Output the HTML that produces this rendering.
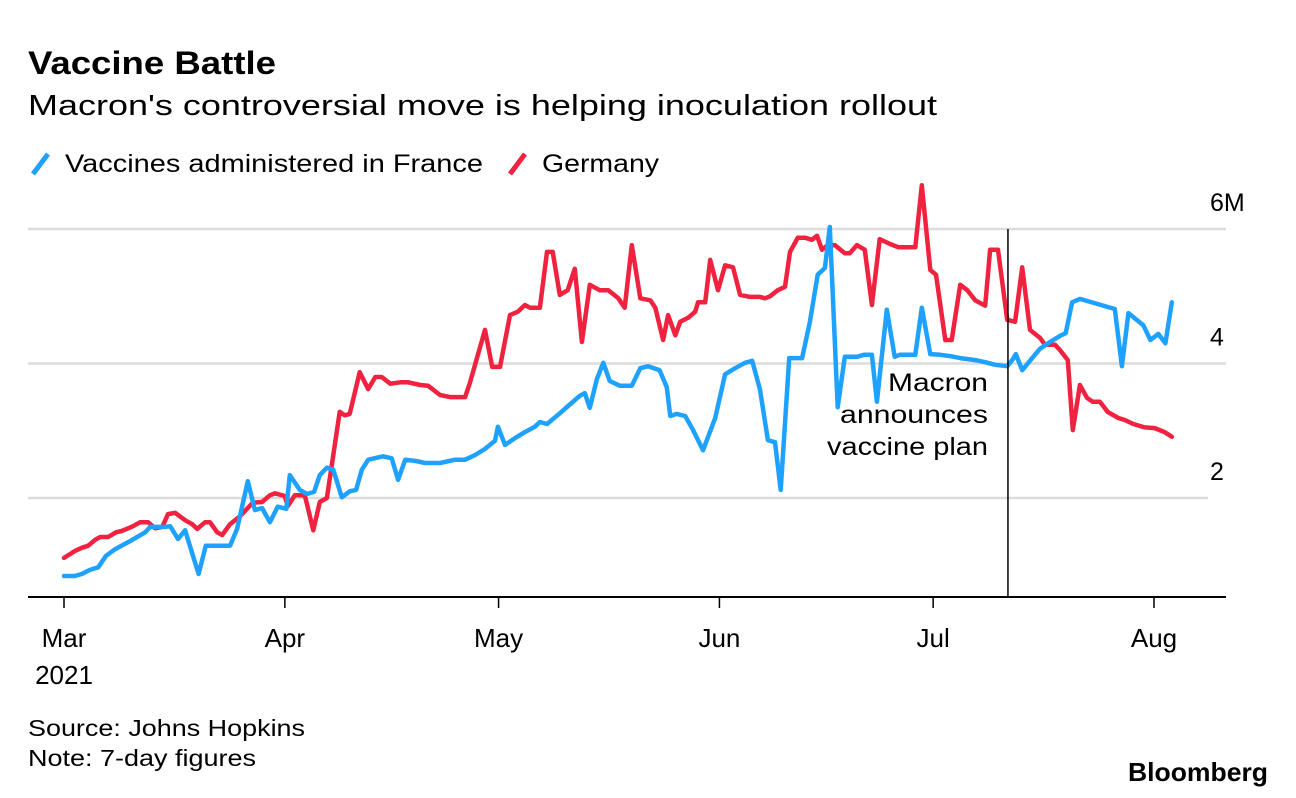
<!DOCTYPE html>
<html><head><meta charset="utf-8"><style>
body{margin:0;background:#fff;width:1296px;height:798px;overflow:hidden;font-family:"Liberation Sans",sans-serif}
svg{position:absolute;left:0;top:0}
</style></head><body>
<svg id="c" width="1296" height="798">
<text x="28" y="74" font-size="32" font-weight="bold" fill="#000" textLength="248" lengthAdjust="spacingAndGlyphs">Vaccine Battle</text>
<text x="28" y="115" font-size="29" fill="#000" textLength="909" lengthAdjust="spacingAndGlyphs">Macron's controversial move is helping inoculation rollout</text>
<g>
<line x1="33" y1="174" x2="48" y2="154" stroke="#1fa1ff" stroke-width="5"/>
<text x="65" y="172" font-size="25" textLength="418" lengthAdjust="spacingAndGlyphs">Vaccines administered in France</text>
<line x1="510" y1="174" x2="525" y2="154" stroke="#f0223f" stroke-width="5"/>
<text x="542" y="172" font-size="25" textLength="117" lengthAdjust="spacingAndGlyphs">Germany</text>
</g>
<g id="grid"></g><g id="marks"></g><g id="axes"></g>
<text x="988" y="391" font-size="25" text-anchor="end" textLength="100" lengthAdjust="spacingAndGlyphs">Macron</text>
<text x="988" y="423" font-size="25" text-anchor="end" textLength="148" lengthAdjust="spacingAndGlyphs">announces</text>
<text x="988" y="455" font-size="25" text-anchor="end" textLength="161" lengthAdjust="spacingAndGlyphs">vaccine plan</text>
<text x="28" y="736" font-size="23" textLength="277" lengthAdjust="spacingAndGlyphs">Source: Johns Hopkins</text>
<text x="28" y="766" font-size="23" textLength="228" lengthAdjust="spacingAndGlyphs">Note: 7-day figures</text>
<text x="1268" y="781" font-size="26" font-weight="bold" text-anchor="end" textLength="140" lengthAdjust="spacingAndGlyphs">Bloomberg</text>
</svg>
<script>
const monthLabels=["Mar","Apr","May","Jun","Jul","Aug"];
const monthDays=[0,31,61,92,122,153];
const yTicks=[2,4,6];
const yTickLabels=["2","4","6M"];
const eventDay=132.5;
const franceDays=[0,1.5,2.5,3.6,4.8,5.9,7.2,9.3,11.4,12.1,14.2,14.9,16.0,17.0,18.9,19.9,23.3,24.3,25.8,26.8,27.8,28.9,30.0,31.2,31.7,33.1,34.1,35.1,35.9,36.9,37.8,39.0,40.1,41.0,41.8,42.7,44.8,46.0,46.9,47.9,49.4,50.7,52.8,54.9,56.3,57.7,59.1,60.5,60.9,61.9,63.3,64.7,66.1,66.8,67.8,69.6,71.0,72.4,73.1,73.8,74.8,75.7,76.6,78.0,79.7,80.9,82.0,83.6,84.6,85.1,86.0,87.2,88.3,89.7,91.4,92.8,94.2,95.6,96.6,97.7,98.8,99.8,100.6,101.8,103.6,104.7,105.8,106.8,107.5,108.6,109.6,111.3,112.3,113.4,114.1,115.5,116.6,117.3,119.5,120.4,121.6,123.0,124.4,125.8,127.9,129.3,130.7,132.4,133.1,133.6,134.5,135.9,137.0,138.4,139.8,140.6,141.5,142.6,147.5,148.5,149.4,151.5,152.5,153.6,154.6,155.5];
const franceValues=[0.84,0.84,0.87,0.93,0.97,1.14,1.24,1.36,1.49,1.57,1.57,1.58,1.39,1.52,0.87,1.29,1.29,1.54,2.25,1.82,1.85,1.64,1.87,1.84,2.34,2.12,2.06,2.09,2.34,2.45,2.42,2.01,2.10,2.12,2.42,2.57,2.62,2.59,2.27,2.57,2.55,2.52,2.52,2.57,2.57,2.64,2.73,2.85,3.06,2.79,2.89,2.98,3.06,3.13,3.10,3.26,3.39,3.52,3.56,3.34,3.77,4.01,3.74,3.67,3.67,3.93,3.96,3.90,3.65,3.22,3.25,3.22,3.01,2.71,3.19,3.84,3.93,4.01,4.04,3.61,2.86,2.83,2.12,4.08,4.08,4.62,5.32,5.42,6.03,3.35,4.10,4.10,4.13,4.13,3.43,4.80,4.10,4.13,4.13,4.83,4.14,4.13,4.11,4.08,4.05,4.02,3.98,3.96,4.05,4.14,3.90,4.08,4.22,4.32,4.41,4.45,4.91,4.96,4.81,3.96,4.75,4.57,4.35,4.44,4.30,4.91];
const germanyDays=[0,1.5,2.5,3.4,4.4,5.1,6.2,7.3,8.1,9.7,10.7,11.8,12.8,13.8,14.6,15.6,17.0,18.0,18.7,19.8,20.5,21.5,22.2,23.3,24.7,26.5,27.8,28.9,29.6,31.0,31.4,32.4,33.8,35.0,35.9,36.9,38.7,39.4,40.1,41.5,42.7,43.7,44.6,45.8,47.2,48.3,50.0,51.1,52.8,54.2,56.3,57.0,58.1,59.1,60.1,61.2,62.6,63.7,64.7,65.4,66.8,67.8,68.6,69.6,70.7,71.7,72.7,73.8,75.2,76.4,77.8,78.7,79.7,80.9,82.3,83.0,84.1,84.8,85.8,86.5,87.6,88.6,89.0,90.0,90.7,91.8,92.8,93.9,94.9,96.3,97.7,98.4,99.1,100.2,101.2,101.9,103.0,104.0,105.0,105.7,106.4,107.2,108.2,109.6,110.3,111.3,112.4,113.4,114.5,115.9,117.1,119.5,120.4,121.6,122.4,123.7,124.6,125.8,126.8,127.9,129.3,130.0,131.1,132.4,133.5,134.5,135.6,137.0,137.7,139.1,139.8,140.9,141.6,142.6,143.6,144.4,145.4,146.5,148.0,148.9,150.1,151.7,153.1,154.5,155.5];
const germanyValues=[1.11,1.21,1.26,1.29,1.38,1.42,1.42,1.49,1.51,1.58,1.64,1.64,1.55,1.57,1.76,1.78,1.67,1.61,1.54,1.64,1.64,1.49,1.45,1.61,1.73,1.93,1.94,2.04,2.07,2.03,1.88,2.04,2.04,1.52,1.94,2.00,3.28,3.23,3.25,3.87,3.62,3.80,3.80,3.70,3.72,3.72,3.68,3.67,3.53,3.50,3.50,3.72,4.13,4.50,3.95,3.95,4.72,4.77,4.87,4.83,4.83,5.66,5.66,5.02,5.09,5.41,4.32,5.17,5.09,5.09,4.97,4.83,5.76,4.97,4.94,4.83,4.35,4.72,4.42,4.62,4.68,4.77,4.91,4.91,5.54,5.09,5.46,5.43,5.02,4.99,4.99,4.97,5.00,5.09,5.14,5.66,5.87,5.87,5.84,5.90,5.69,5.76,5.76,5.64,5.64,5.76,5.69,4.87,5.85,5.78,5.73,5.73,6.65,5.39,5.32,4.35,4.35,5.17,5.09,4.94,4.86,5.69,5.69,4.65,4.62,5.43,4.50,4.38,4.28,4.28,4.20,4.05,3.01,3.68,3.49,3.43,3.43,3.28,3.19,3.16,3.10,3.05,3.04,2.98,2.91];

const NS="http://www.w3.org/2000/svg";
const X=d=>64+d*(1090/153);
const Y=v=>632.5-v*67.25;
function mk(tag,attrs,parent){const e=document.createElementNS(NS,tag);for(const k in attrs)e.setAttribute(k,attrs[k]);document.getElementById(parent).appendChild(e);return e;}
yTicks.forEach((t,i)=>{
  const g=mk('line',{x1:28,x2:i==0?1208:1226,y1:Y(t),y2:Y(t),stroke:'#dcdcdc','stroke-width':2.5},'grid');
  
  
  const tx=mk('text',{x:1210,y:Y(t)-18,'font-size':25},'axes');
  tx.textContent=yTickLabels[i];
  
  
});
function line(days,vals,color,name){
  const p=mk('polyline',{points:days.map((d,i)=>X(d).toFixed(1)+','+Y(vals[i]).toFixed(1)).join(' '),fill:'none',stroke:color,'stroke-width':4.5,'stroke-linejoin':'round','stroke-linecap':'round'},'marks');
  
  
}
line(germanyDays,germanyValues,'#f0223f','germany-line');
line(franceDays,franceValues,'#1fa1ff','france-line');
const ev=mk('line',{x1:X(eventDay),x2:X(eventDay),y1:229,y2:597,stroke:'#000','stroke-width':1.5},'axes');


const base=mk('line',{x1:28,x2:1226,y1:597,y2:597,stroke:'#000','stroke-width':2},'axes');


monthDays.forEach((d,i)=>{
  const t=mk('line',{x1:X(d),x2:X(d),y1:597,y2:608,stroke:'#000','stroke-width':1.5},'axes');
  
  
  const tx=mk('text',{x:X(d),y:647,'font-size':26,'text-anchor':'middle'},'axes');
  tx.textContent=monthLabels[i];
  
  
});
const yr=mk('text',{x:X(0),y:684,'font-size':26,'text-anchor':'middle'},'axes');
yr.textContent='2021';


</script>
</body></html>
